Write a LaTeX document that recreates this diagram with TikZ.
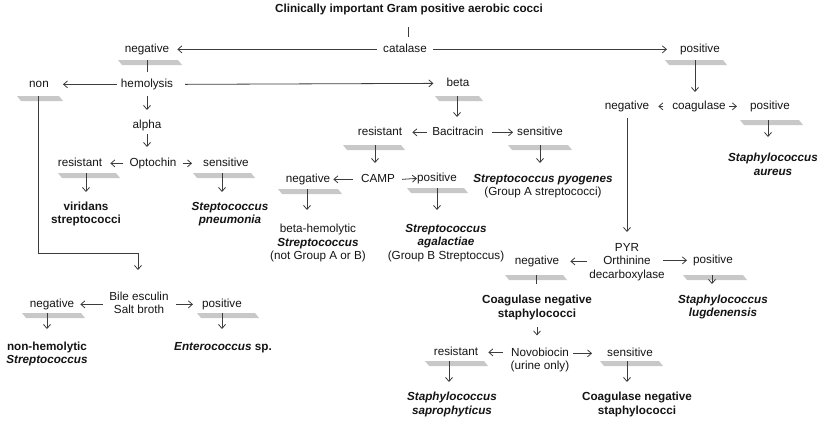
\documentclass[tikz,border=0pt]{standalone}
\usepackage{fontspec}
\setmainfont{Liberation Sans}
\usetikzlibrary{arrows.meta}
\definecolor{linecol}{RGB}{60,60,60}
\definecolor{barcol}{RGB}{200,200,200}
\definecolor{txtcol}{RGB}{20,20,20}
\newcommand\graybar[5]{%
  \fill[barcol] (#2,#4) -- ({#3-4},#4) -- (#3,{#4+5}) -- ({#2+4},{#4+5}) -- cycle;
  \coordinate (#1) at (#5,#4);}
\newcommand\bi[1]{\textbf{\textit{#1}}}
\tikzset{
  txt/.style={inner sep=0pt, align=center, text=txtcol,
    font=\fontsize{11.7}{13.5}\selectfont},
  lbl/.style={txt, anchor=base},
  blk/.style={txt, anchor=center},
  line/.style={draw=linecol, line width=0.8pt},
  arr/.style={line, -{Straight Barb[length=4pt,width=7pt]}}
}
\begin{document}
\begin{tikzpicture}[x=1pt,y=-1pt]
\useasboundingbox (0,0) rectangle (822,423);

% ---------- gray bars ----------
\graybar{bNegC}{118}{182}{60}{147}
\graybar{bNon}{17}{63}{96}{38}
\graybar{bBeta}{435}{483}{96}{457}
\graybar{bOptoR}{58}{120}{173}{86}
\graybar{bOptoS}{193}{255}{173}{222}
\graybar{bBaciR}{343}{405}{145}{375}
\graybar{bBaciS}{508}{572}{145}{540}
\graybar{bCampN}{278}{342}{189}{307}
\graybar{bCampP}{407}{468}{188}{437}
\graybar{bPosC}{665}{727}{60}{695}
\graybar{bCoagP}{740}{803}{120}{768}
\graybar{bPyrN}{505}{567}{275}{536}
\graybar{bPyrP}{683}{747}{275}{712}
\graybar{bNovoR}{425}{488}{361}{449}
\graybar{bNovoS}{600}{663}{361}{627}
\graybar{bBileN}{22}{85}{313}{47}
\graybar{bBileP}{197}{259}{313}{222}

% ---------- texts ----------
\node[lbl, font=\fontsize{11.7}{13.5}\selectfont\bfseries] (title) at (409,12.5) {Clinically important Gram positive aerobic cocci};
\coordinate (tl) at (408,27);

\node[lbl] (catalase) at (405,52) {catalase};
\node[lbl] (negC) at (147,52) {negative};
\node[lbl] (posC) at (700,52) {positive};
\node[lbl] (hemo) at (147,87) {hemolysis};
\node[lbl] (non) at (39,87) {non};
\node[lbl] (beta) at (458,86) {beta};
\node[lbl] (alpha) at (147,128) {alpha};
\node[lbl] (opto) at (153,166) {Optochin};
\node[lbl] (optoR) at (80,166) {resistant};
\node[lbl] (optoS) at (226,166) {sensitive};
\node[blk] (virid) at (86,214) {\textbf{viridans}\\\textbf{streptococci}};
\node[blk] (pneu) at (230,214) {\bi{Steptococcus}\\\bi{pneumonia}};

\node[lbl] (baci) at (458,135) {Bacitracin};
\node[lbl] (baciR) at (380,135) {resistant};
\node[lbl] (baciS) at (540,135) {sensitive};
\node[blk] (pyo) at (543,186) {\bi{Streptococcus pyogenes}\\(Group A streptococci)};
\node[lbl] (camp) at (378,182) {CAMP};
\node[lbl] (campN) at (308,182) {negative};
\node[lbl] (campP) at (437,181) {positive};
\node[blk] (bhem) at (318,243) {beta-hemolytic\\\bi{Streptococcus}\\(not Group A or B)};
\node[blk] (agal) at (446,243) {\bi{Streptococcus}\\\bi{agalactiae}\\(Group B Streptoccus)};

\node[lbl] (coag) at (699,109) {coagulase};
\node[lbl] (coagN) at (627,109) {negative};
\node[lbl] (coagP) at (770,109) {positive};
\node[blk] (aureus) at (773,164.5) {\bi{Staphylococcus}\\\bi{aureus}};
\node[blk] (pyr) at (627,262) {PYR\\Orthinine\\decarboxylase};
\node[lbl] (pyrN) at (537,264) {negative};
\node[lbl] (pyrP) at (713,263) {positive};
\node[blk] (cns1) at (537,307.5) {\textbf{Coagulase negative}\\\textbf{staphylococci}};
\node[blk] (lugd) at (723,307) {\bi{Staphylococcus}\\\bi{lugdenensis}};
\node[blk] (novo) at (540,360) {Novobiocin\\(urine only)};
\node[lbl] (novoR) at (456,355) {resistant};
\node[lbl] (novoS) at (630,356) {sensitive};
\node[blk] (sapro) at (452,404.5) {\bi{Staphylococcus}\\\bi{saprophyticus}};
\node[blk] (cns2) at (637,404.5) {\textbf{Coagulase negative}\\\textbf{staphylococci}};

\node[blk] (bile) at (139,303) {Bile esculin\\Salt broth};
\node[lbl] (bileN) at (52,307) {negative};
\node[lbl] (bileP) at (222,307) {positive};
\node[blk] (nonhem) at (47,354) {\textbf{non-hemolytic}\\\bi{Streptococcus}};
\node[lbl] (entero) at (223,350) {\textbf{\textit{Enterococcus} sp.}};

% ---------- connectors ----------
\draw[line] (tl) -- ++(0,10);
\draw[arr] ([xshift=-6pt]catalase.mid west) -- ([xshift=8pt]negC.mid east);
\draw[arr] ([xshift=6pt]catalase.mid east) -- ([xshift=-13pt]posC.mid west);
\draw[line] (bNegC) -- ++(0,12);
\draw[arr] ([xshift=-4pt]hemo.mid west) -- ([xshift=14pt]non.mid east);
\draw[arr] ([xshift=12pt]hemo.mid east) -- ([xshift=-13pt]beta.mid west);
\draw[arr] ([yshift=-9pt]hemo.base) -- ++(0,14);
\draw[arr] ([yshift=-6pt]alpha.base) -- ++(0,13);
\draw[arr] (bNon) -- ++(0,157) -- ++(100,0) -- ++(0,17);
\draw[arr] (bBeta) -- ++(0,21);

\draw[arr] ([xshift=-6pt]opto.mid west) -- ([xshift=8pt]optoR.mid east);
\draw[arr] ([xshift=6pt]opto.mid east) -- ([xshift=-11pt]optoS.mid west);
\draw[arr] (bOptoR) -- ++(0,19);
\draw[arr] (bOptoS) -- ++(0,19);

\draw[arr] ([xshift=-5pt]baci.mid west) -- ([xshift=10pt]baciR.mid east);
\draw[arr] ([xshift=8pt]baci.mid east) -- ([xshift=-4pt]baciS.mid west);
\draw[arr] (bBaciR) -- ++(0,18);
\draw[arr] (bBaciS) -- ++(0,18);
\draw[arr] ([xshift=-8pt]camp.mid west) -- ([xshift=3pt]campN.mid east);
\draw[arr] ([xshift=7pt]camp.mid east) -- ([xshift=0pt]campP.mid west);
\draw[arr] (bCampN) -- ++(0,21);
\draw[arr] (bCampP) -- ++(0,22);

\draw[arr] (bPosC) -- ++(0,32);
\draw[arr] ([xshift=-9pt]coag.mid west) -- ([xshift=9pt]coagN.mid east);
\draw[arr] ([xshift=3.5pt]coag.mid east) -- ([xshift=-13pt]coagP.mid west);
\draw[arr] (bCoagP) -- ++(0,17);
\draw[arr] ([yshift=-9pt]coagN.base) -- ++(0,114);

\draw[arr] ([xshift=-2pt]pyr.west |- pyrN.mid east) -- ([xshift=11pt]pyrN.mid east);
\draw[arr] ([xshift=-1.5pt]pyr.east |- pyrP.mid west) -- ([xshift=-6pt]pyrP.mid west);
\draw[line] (bPyrN) -- ++(0,9);
\draw[arr] (bPyrP) -- ++(0,9);
\draw[arr] ([yshift=-7.5pt]cns1.south) -- ++(0,8);

\draw[arr] ([xshift=-8pt]novo.west |- novoR.mid east) -- ([xshift=10pt]novoR.mid east);
\draw[arr] ([xshift=4pt]novo.east |- novoS.mid west) -- ([xshift=-15pt]novoS.mid west);
\draw[arr] (bNovoR) -- ++(0,21);
\draw[arr] (bNovoS) -- ++(0,21);

\draw[arr] ([xshift=-6pt]bile.west |- bileN.mid east) -- ([xshift=6pt]bileN.mid east);
\draw[arr] ([xshift=7pt]bile.east |- bileP.mid west) -- ([xshift=-9pt]bileP.mid west);
\draw[arr] (bBileN) -- ++(0,16);
\draw[arr] (bBileP) -- ++(0,16);
\end{tikzpicture}
\end{document}
